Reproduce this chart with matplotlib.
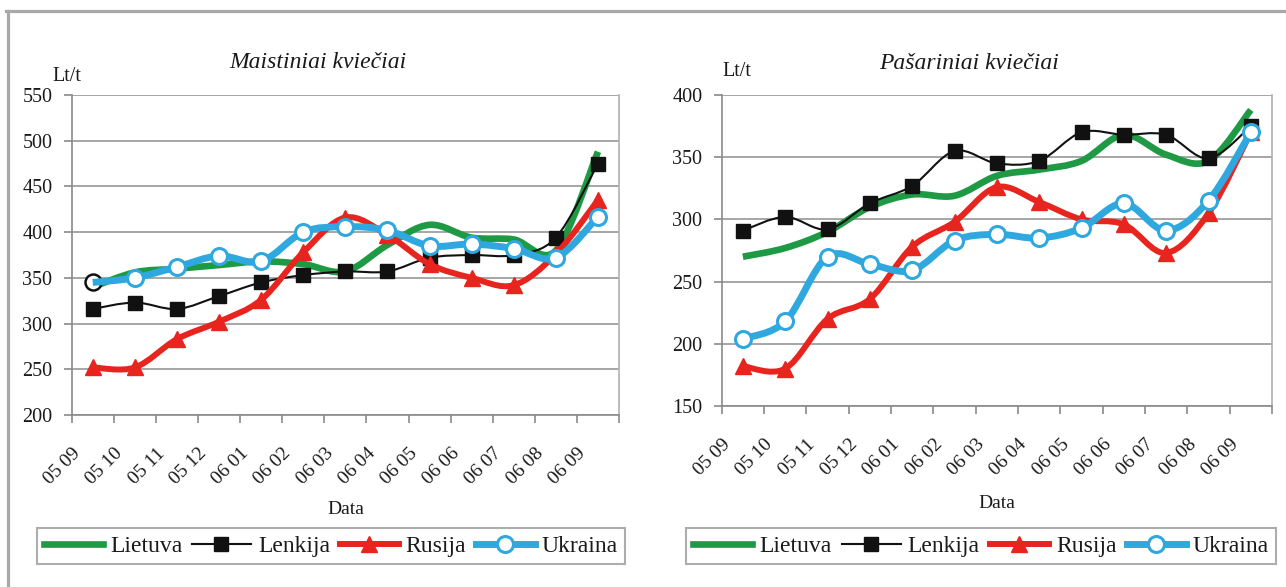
import matplotlib
matplotlib.use("Agg")
import matplotlib.pyplot as plt
from matplotlib.path import Path
from matplotlib.patches import PathPatch
from matplotlib.lines import Line2D
from matplotlib.transforms import ScaledTranslation
import numpy as np

plt.rcParams['font.family'] = ['Liberation Serif', 'DejaVu Serif']
plt.rcParams['text.color'] = '#1a1a1a'
plt.rcParams['xtick.color'] = '#1a1a1a'
plt.rcParams['ytick.color'] = '#1a1a1a'

categories = ["05 09", "05 10", "05 11", "05 12", "06 01", "06 02", "06 03",
              "06 04", "06 05", "06 06", "06 07", "06 08", "06 09"]
series_names = ["Lietuva", "Lenkija", "Rusija", "Ukraina"]

# Maistiniai kviečiai
food_lietuva = [340, 356, 360, 364, 368, 365, 357, 386, 408, 394, 392, 380, 488]
food_lenkija = [316, 323, 316, 330, 345, 353, 357, 357, 372, 375, 375, 394, 475]
food_rusija = [252, 252, 283, 302, 326, 378, 416, 397, 365, 350, 342, 376, 435]
food_ukraina = [345, 350, 362, 374, 368, 400, 406, 402, 385, 387, 382, 372, 417]

# Pašariniai kviečiai
feed_lietuva = [270, 277, 290, 310, 320, 319, 335, 340, 347, 368, 352, 347, 388]
feed_lenkija = [291, 302, 292, 313, 327, 355, 345, 347, 370, 368, 368, 349, 375]
feed_rusija = [182, 180, 220, 236, 278, 298, 326, 314, 300, 296, 273, 305, 370]
feed_ukraina = [204, 218, 270, 264, 259, 283, 288, 285, 293, 313, 291, 315, 370]

GREEN = "#1f9a44"
BLACK = "#111111"
RED = "#e8241f"
BLUE = "#2fa8e0"
GRID = "#a6a6a6"

W, H = 1286, 587
fig = plt.figure(figsize=(W / 100, H / 100), dpi=100)


def smooth_patch(ax, y, color, lw, z):
    x = np.arange(len(y), dtype=float)
    y = np.asarray(y, dtype=float)
    P = np.column_stack([x, y])
    n = len(P)
    verts = [tuple(P[0])]
    codes = [Path.MOVETO]
    for i in range(n - 1):
        pp = P[i - 1] if i > 0 else P[i]
        pn = P[i + 2] if i + 2 < n else P[i + 1]
        c1 = P[i] + (P[i + 1] - pp) / 6.0
        c2 = P[i + 1] - (pn - P[i]) / 6.0
        verts += [tuple(c1), tuple(c2), tuple(P[i + 1])]
        codes += [Path.CURVE4] * 3
    patch = PathPatch(Path(verts, codes), fill=False, edgecolor=color, lw=lw,
                      capstyle='butt', joinstyle='round', zorder=z)
    ax.add_patch(patch)


def panel(rect, ylim, yticks, data, title, title_y, lt_x, lt_y, data_y, first_black):
    ax = fig.add_axes(rect)
    ax.set_xlim(-0.5, len(categories) - 0.5)
    ax.set_ylim(*ylim)
    ax.set_yticks(yticks)
    ax.set_yticklabels([str(v) for v in yticks], fontsize=14.5)
    for v in yticks:
        ax.axhline(v, color=GRID, lw=1.4, zorder=0)
    for s in ['left', 'bottom']:
        ax.spines[s].set_color("#8a8a8a")
        ax.spines[s].set_linewidth(1.2)
    ax.spines['right'].set_color("#b0b0b0")
    ax.spines['right'].set_linewidth(1.2)
    ax.spines['top'].set_visible(False)
    ax.tick_params(axis='y', length=6, width=1.2, color="#8a8a8a", pad=8)

    x = np.arange(len(categories))
    ax.set_xticks(x)
    ax.set_xticklabels(categories, fontsize=14, rotation=45, ha='right',
                       va='center', rotation_mode='anchor')
    ax.set_xticks(np.arange(len(categories) + 1) - 0.5, minor=True)
    ax.tick_params(axis='x', which='major', length=0, pad=0)
    ax.tick_params(axis='x', which='minor', length=6, width=1.2, color="#8a8a8a")
    off = ScaledTranslation(-15 / 100, -36 / 100, fig.dpi_scale_trans)
    for lbl in ax.get_xticklabels():
        lbl.set_transform(lbl.get_transform() + off)

    lie, len_, rus, ukr = data
    smooth_patch(ax, lie, GREEN, 4.8, 2)
    smooth_patch(ax, len_, BLACK, 1.5, 3)
    ax.plot(x, len_, ls='none', marker='s', ms=10, color=BLACK, zorder=3.1)
    smooth_patch(ax, rus, RED, 4.3, 4)
    ax.plot(x, rus, ls='none', marker='^', ms=11.5, color=RED, zorder=4.1)
    smooth_patch(ax, ukr, BLUE, 5.0, 5)
    if first_black:
        ax.plot(x[:1], ukr[:1], ls='none', marker='o', ms=11.5, mfc='white',
                mec=BLACK, mew=1.8, zorder=4.9)
        ax.plot(x[1:], ukr[1:], ls='none', marker='o', ms=11.5, mfc='white',
                mec=BLUE, mew=2.2, zorder=5.1)
    else:
        ax.plot(x, ukr, ls='none', marker='o', ms=11.5, mfc='white',
                mec=BLUE, mew=2.2, zorder=5.1)

    ax.text(0.45, title_y, title, transform=ax.transAxes, fontsize=17,
            style='italic', ha='center', va='center')
    ax.text(lt_x, lt_y, "Lt/t", transform=ax.transAxes, fontsize=14.5,
            ha='left', va='center')
    ax.text(0.5, data_y, "Data", transform=ax.transAxes, fontsize=14,
            ha='center', va='center')
    return ax


def px_rect(x0, x1, ytop, ybot):
    return [x0 / W, 1 - ybot / H, (x1 - x0) / W, (ybot - ytop) / H]


ax1 = panel(px_rect(71.7, 619, 95, 415), (200, 550), [200, 250, 300, 350, 400, 450, 500, 550],
            (food_lietuva, food_lenkija, food_rusija, food_ukraina),
            "Maistiniai kviečiai", 1.103, -0.036, 1.059, (415 - 510) / 320, True)
ax2 = panel(px_rect(721.7, 1272, 95, 406), (150, 400), [150, 200, 250, 300, 350, 400],
            (feed_lietuva, feed_lenkija, feed_rusija, feed_ukraina),
            "Pašariniai kviečiai", 1.10, 0.002, 1.074, (406 - 503) / 311, False)

handles = [
    Line2D([], [], color=GREEN, lw=4.8),
    Line2D([], [], color=BLACK, lw=1.5, marker='s', ms=10),
    Line2D([], [], color=RED, lw=4.3, marker='^', ms=11.5),
    Line2D([], [], color=BLUE, lw=5.0, marker='o', ms=11.5, mfc='white', mec=BLUE, mew=2.2),
]
for x0, x1 in [(37, 625), (686, 1276)]:
    leg = fig.legend(handles, series_names, loc='center',
                     bbox_to_anchor=(x0 / W, 1 - 570 / H, (x1 - x0) / W, 48 / H),
                     mode='expand', ncol=4, fontsize=17, frameon=True, fancybox=False,
                     handlelength=2.5, handletextpad=0.3, columnspacing=0.4,
                     borderpad=0.3, borderaxespad=0)
    leg.get_frame().set_edgecolor("#999999")
    leg.get_frame().set_linewidth(1.5)

# outer gray border (top and left)
fig.add_artist(Line2D([6 / W, 1], [1 - 11 / H, 1 - 11 / H], transform=fig.transFigure,
                      color="#a8a8a8", lw=2.3))
fig.add_artist(Line2D([7.5 / W, 7.5 / W], [0, 1 - 11 / H], transform=fig.transFigure,
                      color="#a8a8a8", lw=2.3))

fig.savefig("out.png", dpi=100, facecolor='white')
